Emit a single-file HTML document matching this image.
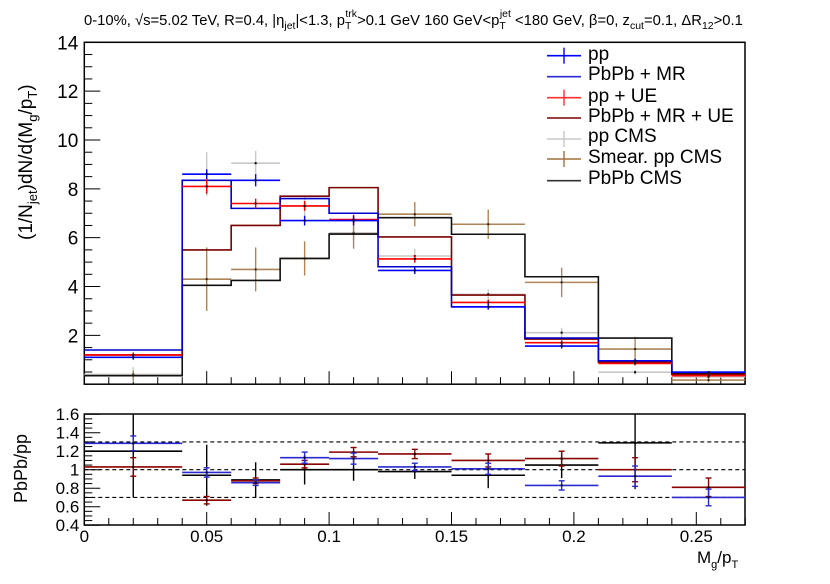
<!DOCTYPE html>
<html><head><meta charset="utf-8"><style>
body{margin:0;background:#fff;}
svg{font-family:"Liberation Sans",Arial,sans-serif;}
</style></head><body>
<svg id="c" width="830" height="579" xmlns="http://www.w3.org/2000/svg"></svg>
<script>
const edges=[0,0.04,0.06,0.08,0.1,0.12,0.15,0.18,0.21,0.24,0.27];
const ppVals=[1.1,8.6,8.35,6.7,6.7,4.66,3.17,1.56,0.96,0.49];
const ppErr=[0.1,0.2,0.25,0.2,0.2,0.15,0.12,0.1,0.08,0.05];
const mrVals=[1.4,8.35,7.2,7.6,7.0,4.81,3.17,1.89,0.96,0.49];
const ppUeVals=[1.2,8.1,7.4,7.3,6.74,5.13,3.35,1.7,0.85,0.35];
const ppUeErr=[0.1,0.3,0.2,0.2,0.2,0.15,0.12,0.1,0.08,0.05];
const mrUeVals=[1.2,5.5,6.5,7.7,8.05,6.03,3.65,1.85,0.9,0.4];
const cmsVals=[0.4,8.6,9.05,7.3,6.2,5.25,3.68,2.11,0.49,0.3];
const cmsErr=[0.3,0.9,0.5,0.4,0.3,0.3,0.2,0.2,0.1,0.1];
const smearVals=[0.35,4.3,4.7,5.15,6.15,6.96,6.55,4.17,1.44,0.17];
const smearErr=[0.2,1.3,0.9,0.7,0.6,0.5,0.6,0.6,0.5,0.1];
const pbCmsVals=[0.35,4.05,4.25,5.15,6.15,6.82,6.14,4.4,1.89,0.45];
const rBlue=[1.285,0.97,0.86,1.13,1.12,1.03,1.01,0.83,0.93,0.70];
const rBlueErr=[0.08,0.05,0.03,0.06,0.06,0.04,0.06,0.05,0.11,0.09];
const rRed=[1.03,0.67,0.88,1.06,1.19,1.17,1.1,1.12,1.0,0.81];
const rRedErr=[0.1,0.04,0.03,0.04,0.05,0.05,0.07,0.08,0.13,0.1];
const rBlack=[1.2,0.94,0.89,1.0,1.0,0.98,0.94,1.05,1.29,null];
const rBlackErr=[0.5,0.33,0.19,0.16,0.12,0.08,0.14,0.14,0.5,0];
const yTicks=[2,4,6,8,10,12,14];
const rTicks=[0.4,0.6,0.8,1,1.2,1.4,1.6];
const xTicks=[0,0.05,0.1,0.15,0.2,0.25];

const S=document.getElementById('c');
const NS='http://www.w3.org/2000/svg';
function mk(t,a,p){const e=document.createElementNS(NS,t);for(const k in a)e.setAttribute(k,a[k]);(p||S).appendChild(e);return e;}
const X0=84.3,XS=2448,FR=745;
const x=v=>X0+v*XS;
const y=v=>384.2-v*24.42;
const yr=v=>469.7-(v-1)*92.5;
const TOP=42.3,BOT=384.2,RTOP=414,RBOT=525;

let f=mk('rect',{x:X0,y:TOP,width:FR-X0,height:BOT-TOP,fill:'none',stroke:'#000','stroke-width':1.5});


f=mk('rect',{x:X0,y:RTOP,width:FR-X0,height:RBOT-RTOP,fill:'none',stroke:'#000','stroke-width':1.5});



function txt(s,xx,yy,o){const t=mk('text',Object.assign({x:xx,y:yy,'font-size':16},o||{}));t.textContent=s;return t;}

for(let v=0.5;v<=14.001;v+=0.5){const maj=Math.abs(v%2)<1e-6;mk('line',{x1:X0,x2:X0+(maj?16:8),y1:y(v),y2:y(v),stroke:'#000'});}
yTicks.forEach(v=>{const t=txt(String(v),X0-6,y(v)+7,{'text-anchor':'end','font-size':19});

});
for(let i=0;i<=27;i++){const v=i*0.01;const maj=i%5===0;
mk('line',{x1:x(v),x2:x(v),y1:BOT,y2:BOT-(maj?13:7),stroke:'#000'});
mk('line',{x1:x(v),x2:x(v),y1:RBOT,y2:RBOT-(maj?13:7),stroke:'#000'});}
xTicks.forEach(v=>{const t=txt(String(v),x(v),542,{'text-anchor':'middle','font-size':17});

});
for(let v=0.4;v<=1.6001;v+=0.05){const maj=Math.abs(Math.round(v*100)%20)<1;mk('line',{x1:X0,x2:X0+(maj?16:8),y1:yr(v),y2:yr(v),stroke:'#000'});}
rTicks.forEach(v=>{const t=txt(String(v),X0-5,yr(v)+6,{'text-anchor':'end','font-size':17});

});
[0.7,1.0,1.3].forEach(v=>{const l=mk('line',{x1:X0,x2:FR,y1:yr(v),y2:yr(v),stroke:'#000','stroke-dasharray':'4,3','stroke-width':1.2});

});

function step(vals,col,name,yf){let d='';for(let i=0;i<vals.length;i++){const a=x(edges[i]),b=x(edges[i+1]),yy=yf(vals[i]);d+=(i?'L':'M')+a+','+yy+'L'+b+','+yy;}
const p=mk('path',{d:d,fill:'none',stroke:col,'stroke-width':1.6});

}
function cross(vals,errs,col,name,yf,op,caps){const g=mk('g',{opacity:op||1});


const r=name.startsWith('ratio');
for(let i=0;i<vals.length;i++){if(vals[i]===null)continue;const a=x(edges[i]),b=x(edges[i+1]),c=(a+b)/2,yy=yf(vals[i]);
let y1=Math.max(yf(vals[i]+errs[i]),r?RTOP:TOP),y2=Math.min(yf(vals[i]-errs[i]),r?RBOT:BOT);
mk('line',{x1:a,x2:b,y1:yy,y2:yy,stroke:col,'stroke-width':1.6},g);
mk('line',{x1:c,x2:c,y1:y1,y2:y2,stroke:col,'stroke-width':1.4},g);
if(caps){[y1,y2].forEach(q=>{if(q>RTOP&&q<RBOT)mk('line',{x1:c-3,x2:c+3,y1:q,y2:q,stroke:col,'stroke-width':1.4},g);});}
mk('rect',{x:c-1,y:yy-1,width:2,height:2,fill:'#000'},g);}}

cross(cmsVals,cmsErr,'#c8c8c8','pp-cms-series',y);
cross(smearVals,smearErr,'#a0703c','smear-pp-cms-series',y,0.85);
step(pbCmsVals,'#111','pbpb-cms-series',y);
step(mrUeVals,'#7a0000','pbpb-mr-ue-series',y);
step(mrVals,'#0000cc','pbpb-mr-series',y);
cross(ppUeVals,ppUeErr,'#ff0000','pp-ue-series',y);
cross(ppVals,ppErr,'#0000ff','pp-series',y);

cross(rBlack,rBlackErr,'#000','ratio-cms-series',yr,1,false);
cross(rRed,rRedErr,'#8b0000','ratio-ue-series',yr,1,true);
cross(rBlue,rBlueErr,'#2a2ad0','ratio-mr-series',yr,1,true);

const leg=[['pp','#0000ff',1],['PbPb + MR','#2a2ad0',0],['pp + UE','#ff3030',1],['PbPb + MR + UE','#7a0000',0],['pp CMS','#c8c8c8',1],['Smear. pp CMS','#a0703c',1],['PbPb CMS','#333',0]];
const lyT=[60,80,102,122,142,163,184];
const lyM=[55.7,76.7,97.7,118,139,159,180.7];
leg.forEach((e,i)=>{const g=mk('g',{});


const yy=lyM[i];mk('line',{x1:547,x2:581,y1:yy,y2:yy,stroke:e[1],'stroke-width':1.6},g);
if(e[2])mk('line',{x1:564,x2:564,y1:yy-8,y2:yy+8,stroke:e[1],'stroke-width':1.4},g);
const t=mk('text',{x:588,y:lyT[i],'font-size':19},g);t.textContent=e[0];});

let t=mk('text',{x:84,y:25,'font-size':14.8});


t.innerHTML='0-10%, √s=5.02 TeV, R=0.4, |η<tspan font-size="10.5" dy="4">jet</tspan><tspan dy="-4">|&lt;1.3, p</tspan><tspan font-size="10.5" dy="4">T</tspan><tspan font-size="10.5" dx="-6" dy="-12">trk</tspan><tspan dy="8">&gt;0.1 GeV   160 GeV&lt;p</tspan><tspan font-size="10.5" dy="4">T</tspan><tspan font-size="10.5" dx="-6" dy="-12">jet</tspan><tspan dy="8"> &lt;180 GeV, β=0, z</tspan><tspan font-size="10.5" dy="4">cut</tspan><tspan dy="-4">=0.1, ΔR</tspan><tspan font-size="10.5" dy="4">12</tspan><tspan dy="-4">&gt;0.1</tspan>';
t=mk('text',{x:0,y:0,'font-size':19,transform:'translate(32,240) rotate(-90)'});


t.innerHTML='(1/N<tspan font-size="13" dy="5">jet</tspan><tspan dy="-5">)dN/d(M</tspan><tspan font-size="13" dy="5">g</tspan><tspan dy="-5">/p</tspan><tspan font-size="13" dy="5">T</tspan><tspan dy="-5">)</tspan>';
t=mk('text',{x:0,y:0,'font-size':18,transform:'translate(27,503) rotate(-90)'});


t.textContent='PbPb/pp';
t=mk('text',{x:697,y:563,'font-size':17});


t.innerHTML='M<tspan font-size="11" dy="5">g</tspan><tspan dy="-5">/p</tspan><tspan font-size="11" dy="5">T</tspan>';
</script>
</body></html>
